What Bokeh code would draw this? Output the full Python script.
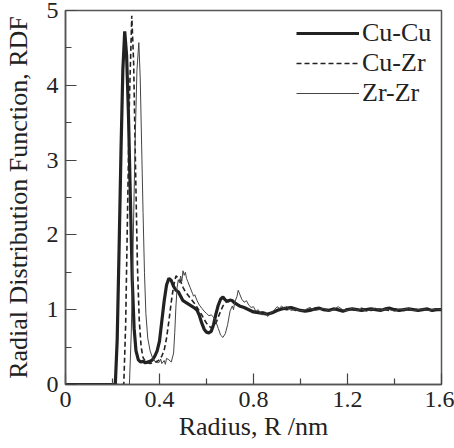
from bokeh.plotting import figure
from bokeh.models import Range1d, FixedTicker, Legend, LegendItem
from bokeh.embed import file_html
from bokeh.resources import INLINE

# ---------------- data ----------------
r_cucu = [0.000, 0.212, 0.220, 0.228, 0.236, 0.244, 0.252, 0.260, 0.268, 0.276,
          0.284, 0.292, 0.300, 0.310, 0.320, 0.330, 0.340, 0.350, 0.360, 0.370,
          0.380, 0.390, 0.400, 0.410, 0.420, 0.430, 0.440, 0.450, 0.460, 0.470,
          0.480, 0.490, 0.500, 0.510, 0.520, 0.530, 0.540, 0.550, 0.560, 0.570,
          0.580, 0.590, 0.600, 0.610, 0.620, 0.630, 0.640, 0.650, 0.660, 0.670,
          0.680, 0.690, 0.700, 0.710, 0.720, 0.730, 0.740, 0.750, 0.760, 0.780,
          0.800, 0.820, 0.840, 0.860, 0.880, 0.900, 0.920, 0.940, 0.960, 0.980,
          1.000, 1.020, 1.040, 1.060, 1.080, 1.100, 1.120, 1.140, 1.160, 1.180,
          1.200, 1.220, 1.240, 1.260, 1.280, 1.300, 1.320, 1.340, 1.360, 1.380,
          1.400, 1.420, 1.440, 1.460, 1.480, 1.500, 1.520, 1.540, 1.560, 1.580,
          1.600]
g_cucu = [0.00, 0.00, 0.60, 1.80, 3.10, 4.20, 4.72, 4.40, 3.60, 2.50,
          1.40, 0.75, 0.45, 0.33, 0.30, 0.31, 0.29, 0.30, 0.31, 0.33,
          0.38, 0.45, 0.58, 0.85, 1.12, 1.33, 1.42, 1.39, 1.31, 1.26,
          1.24, 1.18, 1.12, 1.10, 1.08, 1.06, 1.04, 1.02, 0.99, 0.92,
          0.82, 0.74, 0.70, 0.69, 0.71, 0.80, 0.94, 1.06, 1.14, 1.17,
          1.13, 1.11, 1.13, 1.12, 1.09, 1.07, 1.05, 1.04, 1.03, 1.00,
          0.97, 0.96, 0.95, 0.94, 0.96, 0.99, 1.01, 1.02, 1.03, 1.01,
          0.99, 0.98, 0.99, 1.01, 1.02, 1.00, 0.99, 1.01, 1.00, 0.98,
          1.00, 1.01, 1.00, 0.99, 1.00, 1.01, 1.00, 0.99, 1.01, 1.02,
          1.00, 0.99, 1.00, 1.01, 1.00, 0.99, 1.00, 1.01, 0.99, 1.00,
          1.00]

r_cuzr = [0.000, 0.248, 0.256, 0.264, 0.272, 0.282, 0.290, 0.298, 0.306, 0.314,
          0.322, 0.330, 0.340, 0.350, 0.360, 0.370, 0.380, 0.390, 0.400, 0.410,
          0.420, 0.430, 0.440, 0.450, 0.460, 0.470, 0.480, 0.490, 0.500, 0.510,
          0.520, 0.530, 0.540, 0.550, 0.560, 0.570, 0.580, 0.590, 0.600, 0.610,
          0.620, 0.630, 0.640, 0.650, 0.660, 0.670, 0.680, 0.690, 0.700, 0.710,
          0.720, 0.730, 0.740, 0.760, 0.780, 0.800, 0.820, 0.840, 0.860, 0.880,
          0.900, 0.920, 0.940, 0.960, 0.980, 1.000, 1.020, 1.040, 1.060, 1.080,
          1.100, 1.120, 1.140, 1.160, 1.180, 1.200, 1.220, 1.240, 1.260, 1.280,
          1.300, 1.320, 1.340, 1.360, 1.380, 1.400, 1.420, 1.440, 1.460, 1.480,
          1.500, 1.520, 1.540, 1.560, 1.580, 1.600]
g_cuzr = [0.00, 0.00, 0.80, 2.30, 3.80, 4.93, 4.30, 2.90, 1.60, 0.85,
          0.50, 0.36, 0.31, 0.29, 0.28, 0.29, 0.30, 0.31, 0.33, 0.38,
          0.46, 0.62, 0.85, 1.10, 1.32, 1.45, 1.43, 1.38, 1.30, 1.24,
          1.20, 1.16, 1.12, 1.08, 1.03, 0.98, 0.93, 0.87, 0.82, 0.78,
          0.76, 0.77, 0.82, 0.90, 0.98, 1.05, 1.09, 1.12, 1.14, 1.13,
          1.10, 1.08, 1.06, 1.03, 1.00, 0.98, 0.96, 0.97, 0.95, 0.97,
          1.00, 1.02, 1.00, 1.01, 0.99, 1.00, 0.98, 1.01, 1.00, 1.02,
          0.99, 1.00, 1.01, 0.99, 1.00, 1.01, 0.99, 1.00, 1.02, 1.00,
          0.99, 1.00, 1.01, 1.00, 0.99, 1.01, 1.00, 0.99, 1.00, 1.01,
          1.00, 0.99, 1.00, 1.00, 1.01, 1.00]

r_zrzr = [0.000, 0.272, 0.280, 0.288, 0.296, 0.304, 0.312, 0.318, 0.324, 0.330,
          0.336, 0.342, 0.350, 0.360, 0.370, 0.380, 0.390, 0.400, 0.405, 0.410,
          0.420, 0.425, 0.430, 0.440, 0.450, 0.460, 0.465, 0.470, 0.475, 0.480,
          0.485, 0.490, 0.495, 0.500, 0.505, 0.510, 0.515, 0.520, 0.530, 0.540,
          0.545, 0.550, 0.560, 0.570, 0.580, 0.590, 0.600, 0.610, 0.620, 0.630,
          0.640, 0.650, 0.660, 0.670, 0.680, 0.690, 0.700, 0.710, 0.715, 0.720,
          0.730, 0.735, 0.740, 0.750, 0.760, 0.770, 0.780, 0.790, 0.800, 0.810,
          0.820, 0.830, 0.840, 0.850, 0.860, 0.870, 0.880, 0.890, 0.900, 0.910,
          0.920, 0.930, 0.940, 0.960, 0.980, 1.000, 1.020, 1.040, 1.060, 1.080,
          1.100, 1.120, 1.140, 1.160, 1.180, 1.200, 1.220, 1.240, 1.260, 1.280,
          1.300, 1.320, 1.340, 1.360, 1.380, 1.400, 1.420, 1.440, 1.460, 1.480,
          1.500, 1.520, 1.540, 1.560, 1.580, 1.600]
g_zrzr = [0.00, 0.00, 0.70, 1.90, 3.20, 4.20, 4.57, 4.10, 3.20, 2.30,
          1.50, 0.95, 0.62, 0.45, 0.36, 0.31, 0.29, 0.30, 0.34, 0.28,
          0.32, 0.27, 0.35, 0.33, 0.30, 0.42, 0.70, 1.05, 1.30, 1.40,
          1.36, 1.45, 1.38, 1.52, 1.46, 1.50, 1.42, 1.38, 1.30, 1.22,
          1.18, 1.20, 1.12, 1.06, 1.02, 0.98, 0.95, 0.92, 0.93, 0.90,
          0.84, 0.75, 0.66, 0.63, 0.68, 0.80, 0.98, 1.05, 1.00, 1.10,
          1.18, 1.26, 1.22, 1.14, 1.10, 1.12, 1.06, 1.03, 1.04, 0.98,
          1.00, 0.95, 0.93, 0.96, 0.91, 0.94, 0.97, 1.00, 1.04, 1.02,
          1.05, 1.01, 1.04, 0.99, 1.01, 0.98, 1.00, 1.03, 0.99, 1.00,
          1.02, 0.98, 1.00, 1.04, 1.00, 0.99, 1.02, 0.99, 1.01, 0.98,
          1.00, 1.02, 0.99, 1.01, 1.00, 0.98, 1.01, 1.00, 1.02, 0.99,
          1.00, 1.01, 0.99, 1.00, 1.01, 1.00]

x_ticks = [0, 0.4, 0.8, 1.2, 1.6]
x_tick_labels = ["0", "0.4", "0.8", "1.2", "1.6"]
x_minor = [0.2, 0.6, 1.0, 1.4]
y_ticks = [0, 1, 2, 3, 4, 5]
y_minor = [0.5, 1.5, 2.5, 3.5, 4.5]
series_names = ["Cu-Cu", "Cu-Zr", "Zr-Zr"]
x_title = "Radius, R /nm"
y_title = "Radial Distribution Function, RDF"

FONT = "Liberation Serif"
INK = "#222222"

p = figure(width=454, height=448, output_backend="svg", toolbar_location=None,
           x_range=Range1d(0, 1.6), y_range=Range1d(0, 5),
           min_border_left=65, min_border_right=13, min_border_top=10,
           min_border_bottom=64)
p.background_fill_color = "white"
p.border_fill_color = "white"
p.outline_line_color = "#555555"
p.outline_line_width = 1.5
p.xgrid.visible = False
p.ygrid.visible = False

p.xaxis.ticker = FixedTicker(ticks=x_ticks, minor_ticks=x_minor)
p.xaxis.major_label_overrides = {t: s for t, s in zip(x_ticks, x_tick_labels)}
p.yaxis.ticker = FixedTicker(ticks=y_ticks, minor_ticks=y_minor)
for ax in (p.xaxis[0], p.yaxis[0]):
    ax.axis_line_color = "#555555"
    ax.axis_line_width = 1.5
    ax.major_tick_in = 11
    ax.major_tick_out = 0
    ax.minor_tick_in = 6
    ax.minor_tick_out = 0
    ax.major_tick_line_color = "#444444"
    ax.minor_tick_line_color = "#444444"
    ax.major_tick_line_width = 1.2
    ax.minor_tick_line_width = 1.2
    ax.major_label_text_font = FONT
    ax.major_label_text_font_size = "24px"
    ax.major_label_text_color = INK
    ax.axis_label_text_font = FONT
    ax.axis_label_text_font_size = "26px"
    ax.axis_label_text_font_style = "normal"
    ax.axis_label_text_color = INK
p.xaxis.axis_label = x_title
p.yaxis.axis_label = y_title
p.xaxis.major_label_standoff = 7
p.xaxis.axis_label_standoff = 2
p.yaxis.major_label_standoff = 7
p.yaxis.axis_label_standoff = 11

l1 = p.line(r_cucu, g_cucu, line_color=INK, line_width=3.2)
l2 = p.line(r_cuzr, g_cuzr, line_color=INK, line_width=1.6, line_dash="5 3")
l3 = p.line(r_zrzr, g_zrzr, line_color="#444444", line_width=1.0)

legend = Legend(items=[LegendItem(label=series_names[0], renderers=[l1]),
                       LegendItem(label=series_names[1], renderers=[l2]),
                       LegendItem(label=series_names[2], renderers=[l3])],
                location=(231, 276), margin=0, padding=8, spacing=0,
                glyph_width=63, glyph_height=30, label_height=30,
                label_standoff=3, border_line_color=None,
                background_fill_alpha=0,
                label_text_font=FONT, label_text_font_size="26px",
                label_text_color=INK)
p.add_layout(legend)

open("out.html", "w").write(file_html(p, INLINE))
